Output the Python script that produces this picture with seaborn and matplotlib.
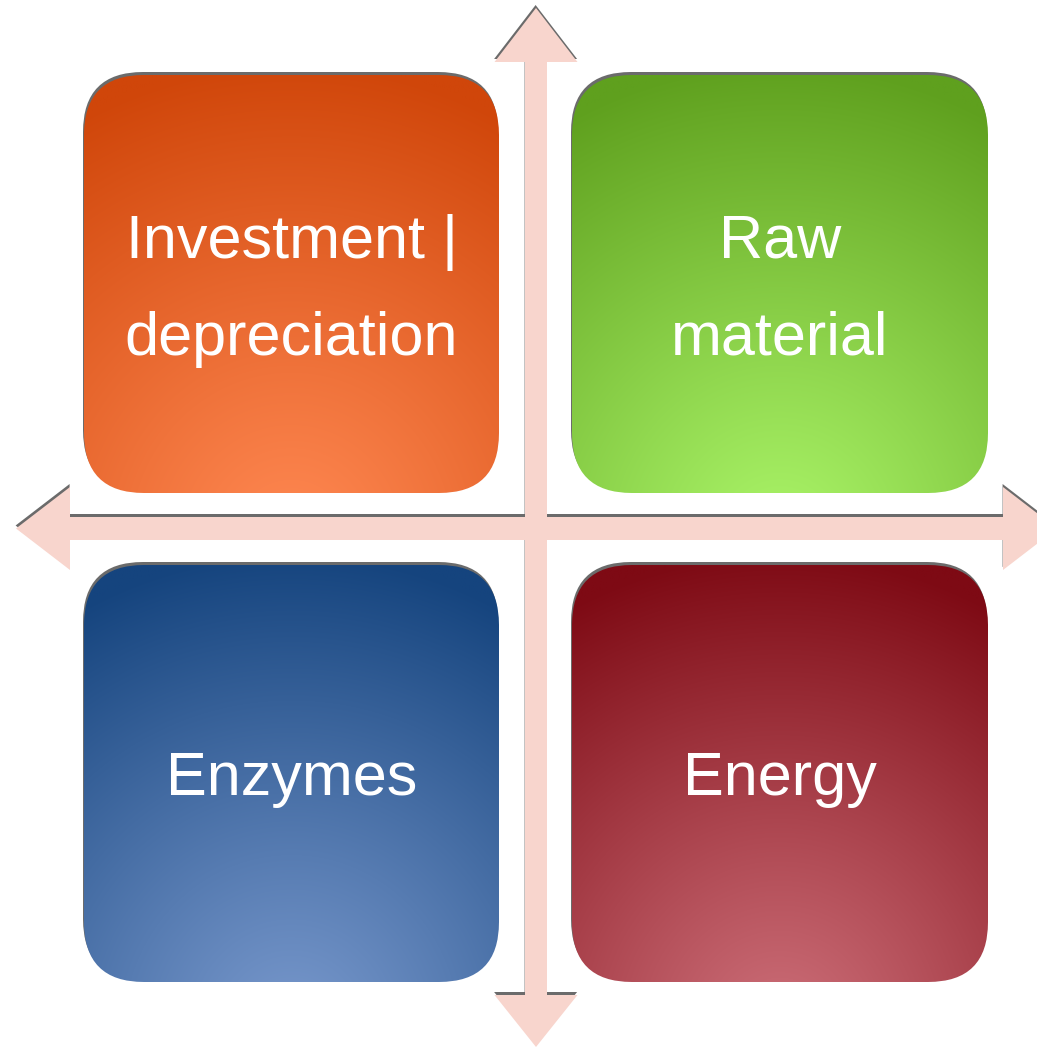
import numpy as np
import matplotlib
matplotlib.use("Agg")
import matplotlib.pyplot as plt
from matplotlib.patches import FancyBboxPatch, Polygon
from matplotlib.colors import to_rgb
import seaborn as sns

# ---- content ----
labels = ["Investment |\ndepreciation", "Raw\nmaterial", "Enzymes", "Energy"]
dark_colors = ["#D0460A", "#5FA01E", "#15447E", "#7E0A14"]
light_colors = ["#FF8852", "#AAF468", "#7898CC", "#CC6E78"]

sns.set_theme(style="white")
plt.rcParams['font.family'] = ['Liberation Sans', 'DejaVu Sans']

W, H = 1037, 1047
fig = plt.figure(figsize=(W / 100, H / 100), dpi=100)
ax = fig.add_axes([0, 0, 1, 1])
ax.set_xlim(0, W)
ax.set_ylim(H, 0)
ax.axis("off")

# layout of 2x2 grid
col_x = [(84, 499), (572, 988)]
row_y = [(75, 493), (565, 982)]
radius = 60
shadow_col = "#6B6B6B"
sdx, sdy = -1, -3


def gradient_img(dark, light, w, h, n=300):
    d = np.array(to_rgb(dark))
    l = np.array(to_rgb(light))
    xs = np.linspace(0, 1, n)
    ys = np.linspace(0, 1, n)
    X, Y = np.meshgrid(xs, ys)
    # radial highlight centered below bottom-center
    dx = (X - 0.5) * w
    dy = (1.12 - Y) * h
    dist = np.sqrt((dx * 1.05) ** 2 + dy ** 2) / (1.15 * h)
    t = np.clip(dist, 0, 1) ** 1.1
    img = l[None, None, :] * (1 - t[..., None]) + d[None, None, :] * t[..., None]
    return img


for i, lab in enumerate(labels):
    r, c = divmod(i, 2)
    x0, x1 = col_x[c]
    y0, y1 = row_y[r]
    w, h = x1 - x0, y1 - y0
    # shadow
    sh = FancyBboxPatch((x0 + sdx, y0 + sdy), w, h,
                        boxstyle=f"round,pad=0,rounding_size={radius}",
                        fc=shadow_col, ec="none", zorder=1)
    ax.add_patch(sh)
    clip = FancyBboxPatch((x0, y0), w, h,
                          boxstyle=f"round,pad=0,rounding_size={radius}",
                          fc="none", ec="none", zorder=2)
    ax.add_patch(clip)
    img = gradient_img(dark_colors[i], light_colors[i], w, h)
    im = ax.imshow(img, extent=(x0, x1, y1, y0), interpolation="bilinear",
                   zorder=2, aspect="auto")
    im.set_clip_path(clip)
    # text (va='baseline' anchors the last line's baseline)
    n_lines = lab.count("\n") + 1
    cap, gap = 44, 97
    cx, cy = (x0 + x1) / 2, (y0 + y1) / 2
    last_base = cy + (cap + (n_lines - 1) * gap) / 2
    ax.text(cx, last_base, lab, color="white", fontsize=44, ha="center",
            va="baseline", multialignment="center", linespacing=1.9, zorder=3)

# ---- arrows ----
pink = "#F8D5CD"
vcx, shaft_v, head_v, top_tip, top_base, bot_base, bot_tip = 536, 11, 41.5, 8, 62, 995, 1047
hcy, shaft_h, head_h, l_tip, l_base, r_base, r_tip = 528.5, 11.5, 41.5, 16, 70, 1003, 1057

v_arrow = [(vcx, top_tip), (vcx + head_v, top_base), (vcx + shaft_v, top_base),
           (vcx + shaft_v, bot_base), (vcx + head_v, bot_base), (vcx, bot_tip),
           (vcx - head_v, bot_base), (vcx - shaft_v, bot_base), (vcx - shaft_v, top_base),
           (vcx - head_v, top_base)]
h_arrow = [(l_tip, hcy), (l_base, hcy - head_h), (l_base, hcy - shaft_h),
           (r_base, hcy - shaft_h), (r_base, hcy - head_h), (r_tip, hcy),
           (r_base, hcy + head_h), (r_base, hcy + shaft_h), (l_base, hcy + shaft_h),
           (l_base, hcy + head_h)]

adx = -0.4
for poly in (v_arrow, h_arrow):
    ax.add_patch(Polygon([(x + adx, y + sdy) for x, y in poly], closed=True,
                         fc=shadow_col, ec="none", zorder=4))
for poly in (v_arrow, h_arrow):
    ax.add_patch(Polygon(poly, closed=True, fc=pink, ec="none", zorder=5))

fig.savefig("out.png", dpi=100, facecolor="white")
